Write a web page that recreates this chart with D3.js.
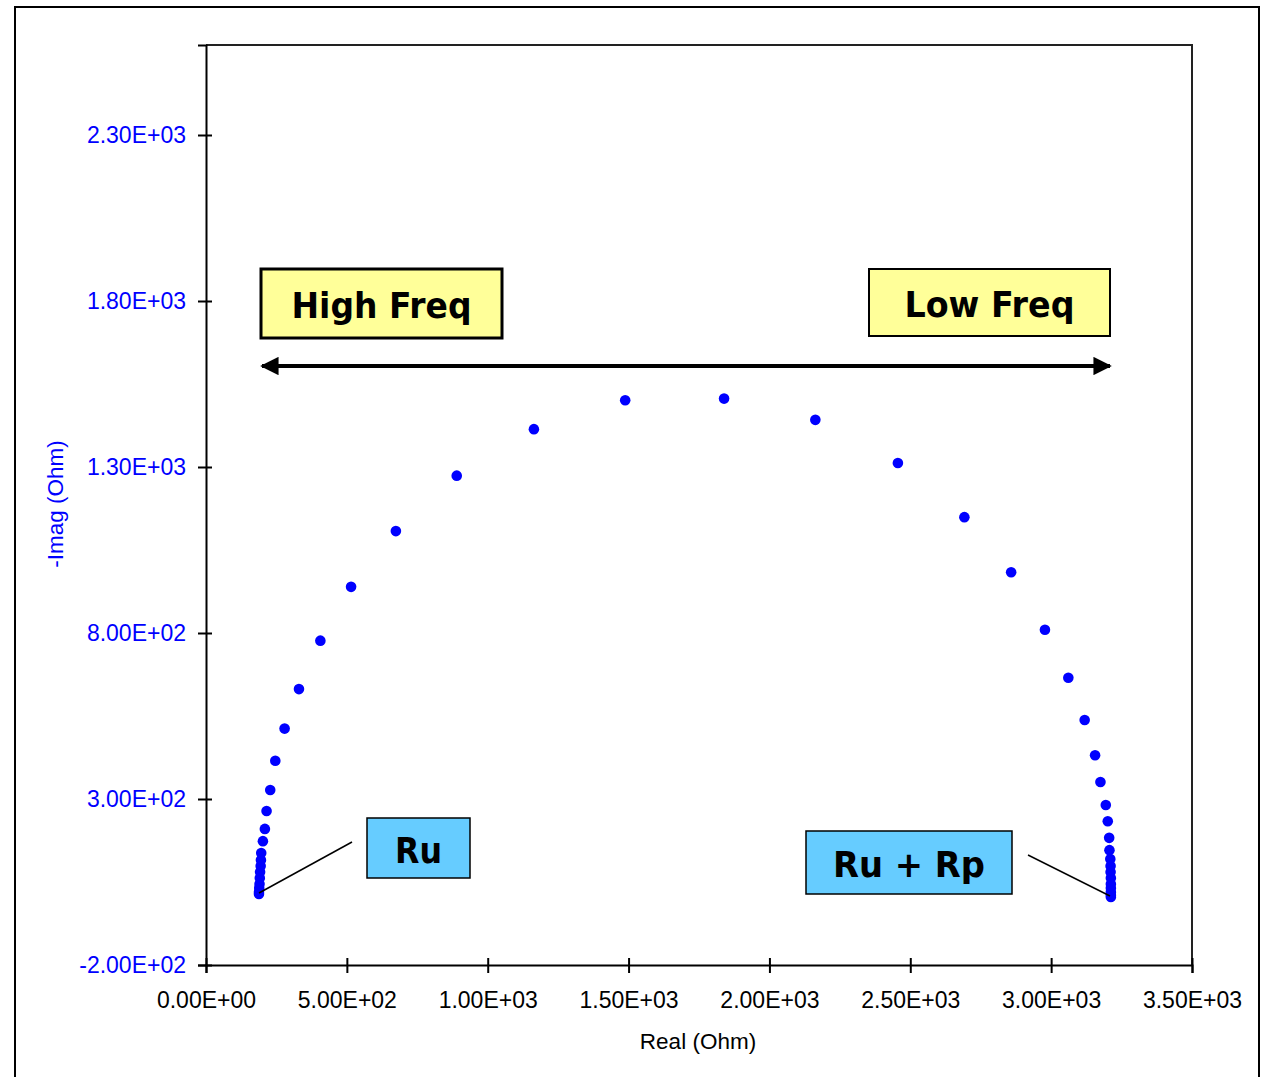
<!DOCTYPE html>
<html>
<head>
<meta charset="utf-8">
<script src="https://cdn.jsdelivr.net/npm/d3@7"></script>
<style>
  body { margin: 0; background: #fff; }
  .tick text { font-family: "Liberation Sans", Arial, sans-serif; font-size: 23px; }
  .note { font-family: "DejaVu Sans", Verdana, sans-serif; font-weight: bold; }
</style>
</head>
<body>
<div id="chart"></div>
<script>
// Nyquist data (Real vs -Imag, Ohm)
const realVals = [188, 188, 189, 190, 191, 192, 194, 195, 196, 202, 209, 215, 228, 246, 279, 330, 406, 515, 674, 890,
  1164, 1488, 1839, 2163, 2456, 2692, 2858, 2978, 3061, 3119, 3156, 3175, 3194, 3201, 3206, 3207, 3210, 3211, 3211,
  3212, 3212, 3212, 3212, 3212, 3212];
const imagVals = [14, 20, 32, 44, 62, 80, 98, 116, 137, 173, 210, 264, 327, 415, 512, 631, 777, 939, 1107, 1274,
  1414, 1501, 1506, 1442, 1312, 1149, 983, 810, 665, 538, 432, 351, 282, 233, 183, 146, 119, 98, 80,
  62, 44, 32, 20, 11, 5];
const xTicks = [0, 500, 1000, 1500, 2000, 2500, 3000, 3500];
const yTicks = [-200, 300, 800, 1300, 1800, 2300];

const width = 1261, height = 1077;
const margin = { left: 206, top: 45, right: 69, bottom: 112 };
const innerWidth = width - margin.left - margin.right;
const innerHeight = height - margin.top - margin.bottom;

const svg = d3.select("#chart").append("svg")
  .attr("width", width)
  .attr("height", height);

// outer frame
svg.append("rect")
  .attr("x", 15).attr("y", 7)
  .attr("width", 1244).attr("height", 1120)
  .attr("fill", "#fff")
  .attr("stroke", "#000")
  .attr("stroke-width", 2);

const xScale = d3.scaleLinear().domain([0, 3500]).range([0, innerWidth]);
const yScale = d3.scaleLinear().domain([-200, -200 + innerHeight / 0.332]).range([innerHeight, 0]);

const sci = v => {
  const [m, e] = v.toExponential(2).split("e");
  const sign = e[0] === "-" ? "-" : "+";
  return m + "E" + sign + e.replace(/[+-]/, "").padStart(2, "0");
};

const g = svg.append("g").attr("transform", `translate(${margin.left},${margin.top})`);

// plot area top/right border
g.append("path")
  .attr("d", `M0,0H${innerWidth}V${innerHeight}`)
  .attr("fill", "none")
  .attr("stroke", "#222")
  .attr("stroke-width", 2);

// axes
const xAxis = g.append("g")
  .attr("transform", `translate(0,${innerHeight})`)
  .call(d3.axisBottom(xScale).tickValues(xTicks).tickFormat(sci).tickSizeOuter(0).tickSize(8).tickPadding(19));
const yAxis = g.append("g")
  .call(d3.axisLeft(yScale).tickValues(yTicks).tickFormat(sci).tickSizeOuter(0).tickSize(8).tickPadding(12));

[xAxis, yAxis].forEach(a => {
  a.select(".domain").attr("stroke", "#000").attr("stroke-width", 2);
  a.selectAll(".tick line").attr("stroke", "#000").attr("stroke-width", 2);
});
xAxis.selectAll(".tick line").attr("y1", -7).attr("y2", 8);
yAxis.selectAll(".tick line").attr("x1", 6).attr("x2", -8);
xAxis.selectAll(".tick text").attr("fill", "#000");
yAxis.selectAll(".tick text").attr("fill", "#0000ff");

// axis titles
svg.append("text")
  .attr("x", 698).attr("y", 1049)
  .attr("text-anchor", "middle")
  .style("font-family", "Liberation Sans, Arial, sans-serif")
  .style("font-size", "22.5px")
  .text("Real (Ohm)");
svg.append("text")
  .attr("transform", "translate(63,504) rotate(-90)")
  .attr("text-anchor", "middle")
  .style("font-family", "Liberation Sans, Arial, sans-serif")
  .style("font-size", "22.5px")
  .attr("fill", "#0000ff")
  .text("-Imag (Ohm)");

// points
const pts = realVals.map((r, i) => ({ re: r, im: imagVals[i] }));
g.selectAll("circle")
  .data(pts)
  .join("circle")
  .attr("cx", d => xScale(d.re))
  .attr("cy", d => yScale(d.im))
  .attr("r", 5.3)
  .attr("fill", "#0000ff");

// frequency arrow
const defs = svg.append("defs");
defs.append("marker")
  .attr("id", "head")
  .attr("viewBox", "0 0 10 10")
  .attr("refX", 9).attr("refY", 5)
  .attr("markerWidth", 5.2).attr("markerHeight", 4.6)
  .attr("markerUnits", "strokeWidth")
  .attr("orient", "auto-start-reverse")
  .append("path").attr("d", "M0,0L10,5L0,10z").attr("fill", "#000");

svg.append("line")
  .attr("x1", 262).attr("y1", 366)
  .attr("x2", 1110).attr("y2", 366)
  .attr("stroke", "#000")
  .attr("stroke-width", 4)
  .attr("marker-start", "url(#head)")
  .attr("marker-end", "url(#head)");

// callout boxes
const boxes = [
  { label: "High Freq", x: 261, y: 269, w: 241, h: 69, fill: "#ffff99", sw: 3, fs: 35, tw: 180 },
  { label: "Low Freq", x: 869, y: 269, w: 241, h: 67, fill: "#ffff99", sw: 2, fs: 35, tw: 170 },
  { label: "Ru", x: 367, y: 818, w: 103, h: 60, fill: "#66ccff", sw: 1.5, fs: 35, tw: 47 },
  { label: "Ru + Rp", x: 806, y: 831, w: 206, h: 63, fill: "#66ccff", sw: 1.5, fs: 35, tw: 152 }
];

// leader lines
const leaders = [
  { x1: 352, y1: 842, x2: 259, y2: 893 },
  { x1: 1028, y1: 855, x2: 1110, y2: 896 }
];
svg.selectAll(".leader")
  .data(leaders)
  .join("line")
  .attr("class", "leader")
  .attr("x1", d => d.x1).attr("y1", d => d.y1)
  .attr("x2", d => d.x2).attr("y2", d => d.y2)
  .attr("stroke", "#000")
  .attr("stroke-width", 1.5);

const bg = svg.selectAll(".box")
  .data(boxes)
  .join("g")
  .attr("class", "box");
bg.append("rect")
  .attr("x", d => d.x).attr("y", d => d.y)
  .attr("width", d => d.w).attr("height", d => d.h)
  .attr("fill", d => d.fill)
  .attr("stroke", "#000")
  .attr("stroke-width", d => d.sw);
bg.append("text")
  .attr("class", "note")
  .attr("x", d => d.x + d.w / 2)
  .attr("y", d => d.y + d.h / 2)
  .attr("dy", "0.42em")
  .attr("text-anchor", "middle")
  .attr("textLength", d => d.tw)
  .attr("lengthAdjust", "spacingAndGlyphs")
  .style("font-size", d => d.fs + "px")
  .text(d => d.label);
</script>
</body>
</html>
